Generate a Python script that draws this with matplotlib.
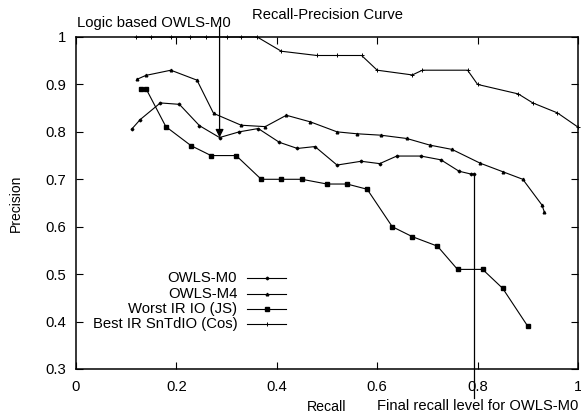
import matplotlib
matplotlib.use('Agg')
import matplotlib.pyplot as plt

plt.rcParams['font.family'] = ['Liberation Sans', 'DejaVu Sans']
plt.rcParams['font.size'] = 10.7

# Recall / precision values
m0_recall = [0.112, 0.128, 0.168, 0.206, 0.246, 0.286, 0.325, 0.363, 0.405, 0.441,
             0.476, 0.520, 0.568, 0.605, 0.639, 0.687, 0.727, 0.763, 0.787, 0.793]
m0_prec = [0.807, 0.826, 0.861, 0.858, 0.813, 0.788, 0.800, 0.807, 0.778, 0.765,
           0.769, 0.730, 0.738, 0.733, 0.749, 0.749, 0.741, 0.717, 0.711, 0.711]

m4_recall = [0.122, 0.139, 0.189, 0.241, 0.274, 0.329, 0.377, 0.419, 0.467, 0.520,
             0.559, 0.607, 0.659, 0.705, 0.749, 0.805, 0.850, 0.890, 0.928, 0.933]
m4_prec = [0.911, 0.919, 0.930, 0.909, 0.839, 0.814, 0.811, 0.835, 0.821, 0.800,
           0.796, 0.793, 0.786, 0.772, 0.763, 0.734, 0.716, 0.700, 0.646, 0.631]

worst_recall = [0.129, 0.140, 0.179, 0.229, 0.269, 0.319, 0.369, 0.409, 0.450, 0.500,
                0.540, 0.580, 0.630, 0.670, 0.720, 0.760, 0.810, 0.850, 0.900]
worst_prec = [0.890, 0.890, 0.811, 0.771, 0.750, 0.750, 0.700, 0.700, 0.700, 0.690,
              0.690, 0.679, 0.600, 0.579, 0.559, 0.510, 0.510, 0.470, 0.390]

best_recall = [0.120, 0.149, 0.189, 0.228, 0.259, 0.301, 0.329, 0.361, 0.409, 0.480,
               0.520, 0.569, 0.600, 0.670, 0.690, 0.780, 0.800, 0.881, 0.910, 0.959, 1.0]
best_prec = [1.0, 1.0, 1.0, 1.0, 1.0, 1.0, 1.0, 1.0, 0.970, 0.961,
             0.961, 0.961, 0.930, 0.920, 0.930, 0.930, 0.900, 0.880, 0.861, 0.840, 0.810]

labels = ['OWLS-M0', 'OWLS-M4', 'Worst IR IO (JS)', 'Best IR SnTdIO (Cos)']
xticks = [0, 0.2, 0.4, 0.6, 0.8, 1]
yticks = [0.3, 0.4, 0.5, 0.6, 0.7, 0.8, 0.9, 1]

series = [
    (m0_recall, m0_prec, dict(marker='D', markersize=1.4)),
    (m4_recall, m4_prec, dict(marker='^', markersize=1.9)),
    (worst_recall, worst_prec, dict(marker='s', markersize=2.2)),
    (best_recall, best_prec, dict(marker='+', markersize=3.0, markeredgewidth=0.7)),
]

fig = plt.figure(figsize=(5.81, 4.16), dpi=100)
ax = fig.add_axes([76 / 581, 47 / 416, 502 / 581, 332 / 416])

for (xs, ys, style), lab in zip(series, labels):
    ax.plot(xs, ys, color='black', linewidth=0.8, clip_on=False, **style)

ax.set_xlim(0, 1)
ax.set_ylim(0.3, 1)
ax.set_xticks(xticks)
ax.set_xticklabels(['0', '0.2', '0.4', '0.6', '0.8', '1'])
ax.set_yticks(yticks)
ax.set_yticklabels(['0.3', '0.4', '0.5', '0.6', '0.7', '0.8', '0.9', '1'])
ax.tick_params(direction='in', length=5, width=0.8, top=True, right=True, labelsize=10.7)
ax.tick_params(axis='x', pad=8)
ax.tick_params(axis='y', pad=7)
for s in ax.spines.values():
    s.set_linewidth(1.1)

ax.text(0.5, 1.067, 'Recall-Precision Curve', transform=ax.transAxes, ha='center', va='center', fontsize=10.6)
ax.text(0.5, -0.115, 'Recall', transform=ax.transAxes, ha='center', va='center', fontsize=10.2)
ax.set_ylabel('Precision', fontsize=10, labelpad=16)

# legend drawn by hand, gnuplot style (text right-aligned, sample to the right)
leg_y = [0.273, 0.226, 0.180, 0.136]
for (xs, ys, style), lab, yy in zip(series, labels, leg_y):
    ax.text(0.321, yy, lab, transform=ax.transAxes, ha='right', va='center', fontsize=10.7)
    ax.plot([0.341, 0.418], [yy, yy], color='black', linewidth=0.8, transform=ax.transAxes)
    ax.plot([0.3795], [yy], color='black', linestyle='none', transform=ax.transAxes, **style)

# annotations
ax.annotate('', xy=(m0_recall[5], m0_prec[5]), xytext=(m0_recall[5], 1.022),
            arrowprops=dict(arrowstyle='-|>', color='black', lw=0.9, mutation_scale=12,
                            shrinkA=0, shrinkB=0), annotation_clip=False)
ax.text(0.001, 1.042, 'Logic based OWLS-M0', transform=ax.transAxes, ha='left', va='center', fontsize=10.7)

ax.plot([m0_recall[-1], m0_recall[-1]], [m0_prec[-1], 0.238], color='black', linewidth=0.9, clip_on=False)
ax.text(0.6, -0.112, 'Final recall level for OWLS-M0', transform=ax.transAxes, ha='left', va='center', fontsize=10.6)

fig.savefig('out.png', dpi=100)
